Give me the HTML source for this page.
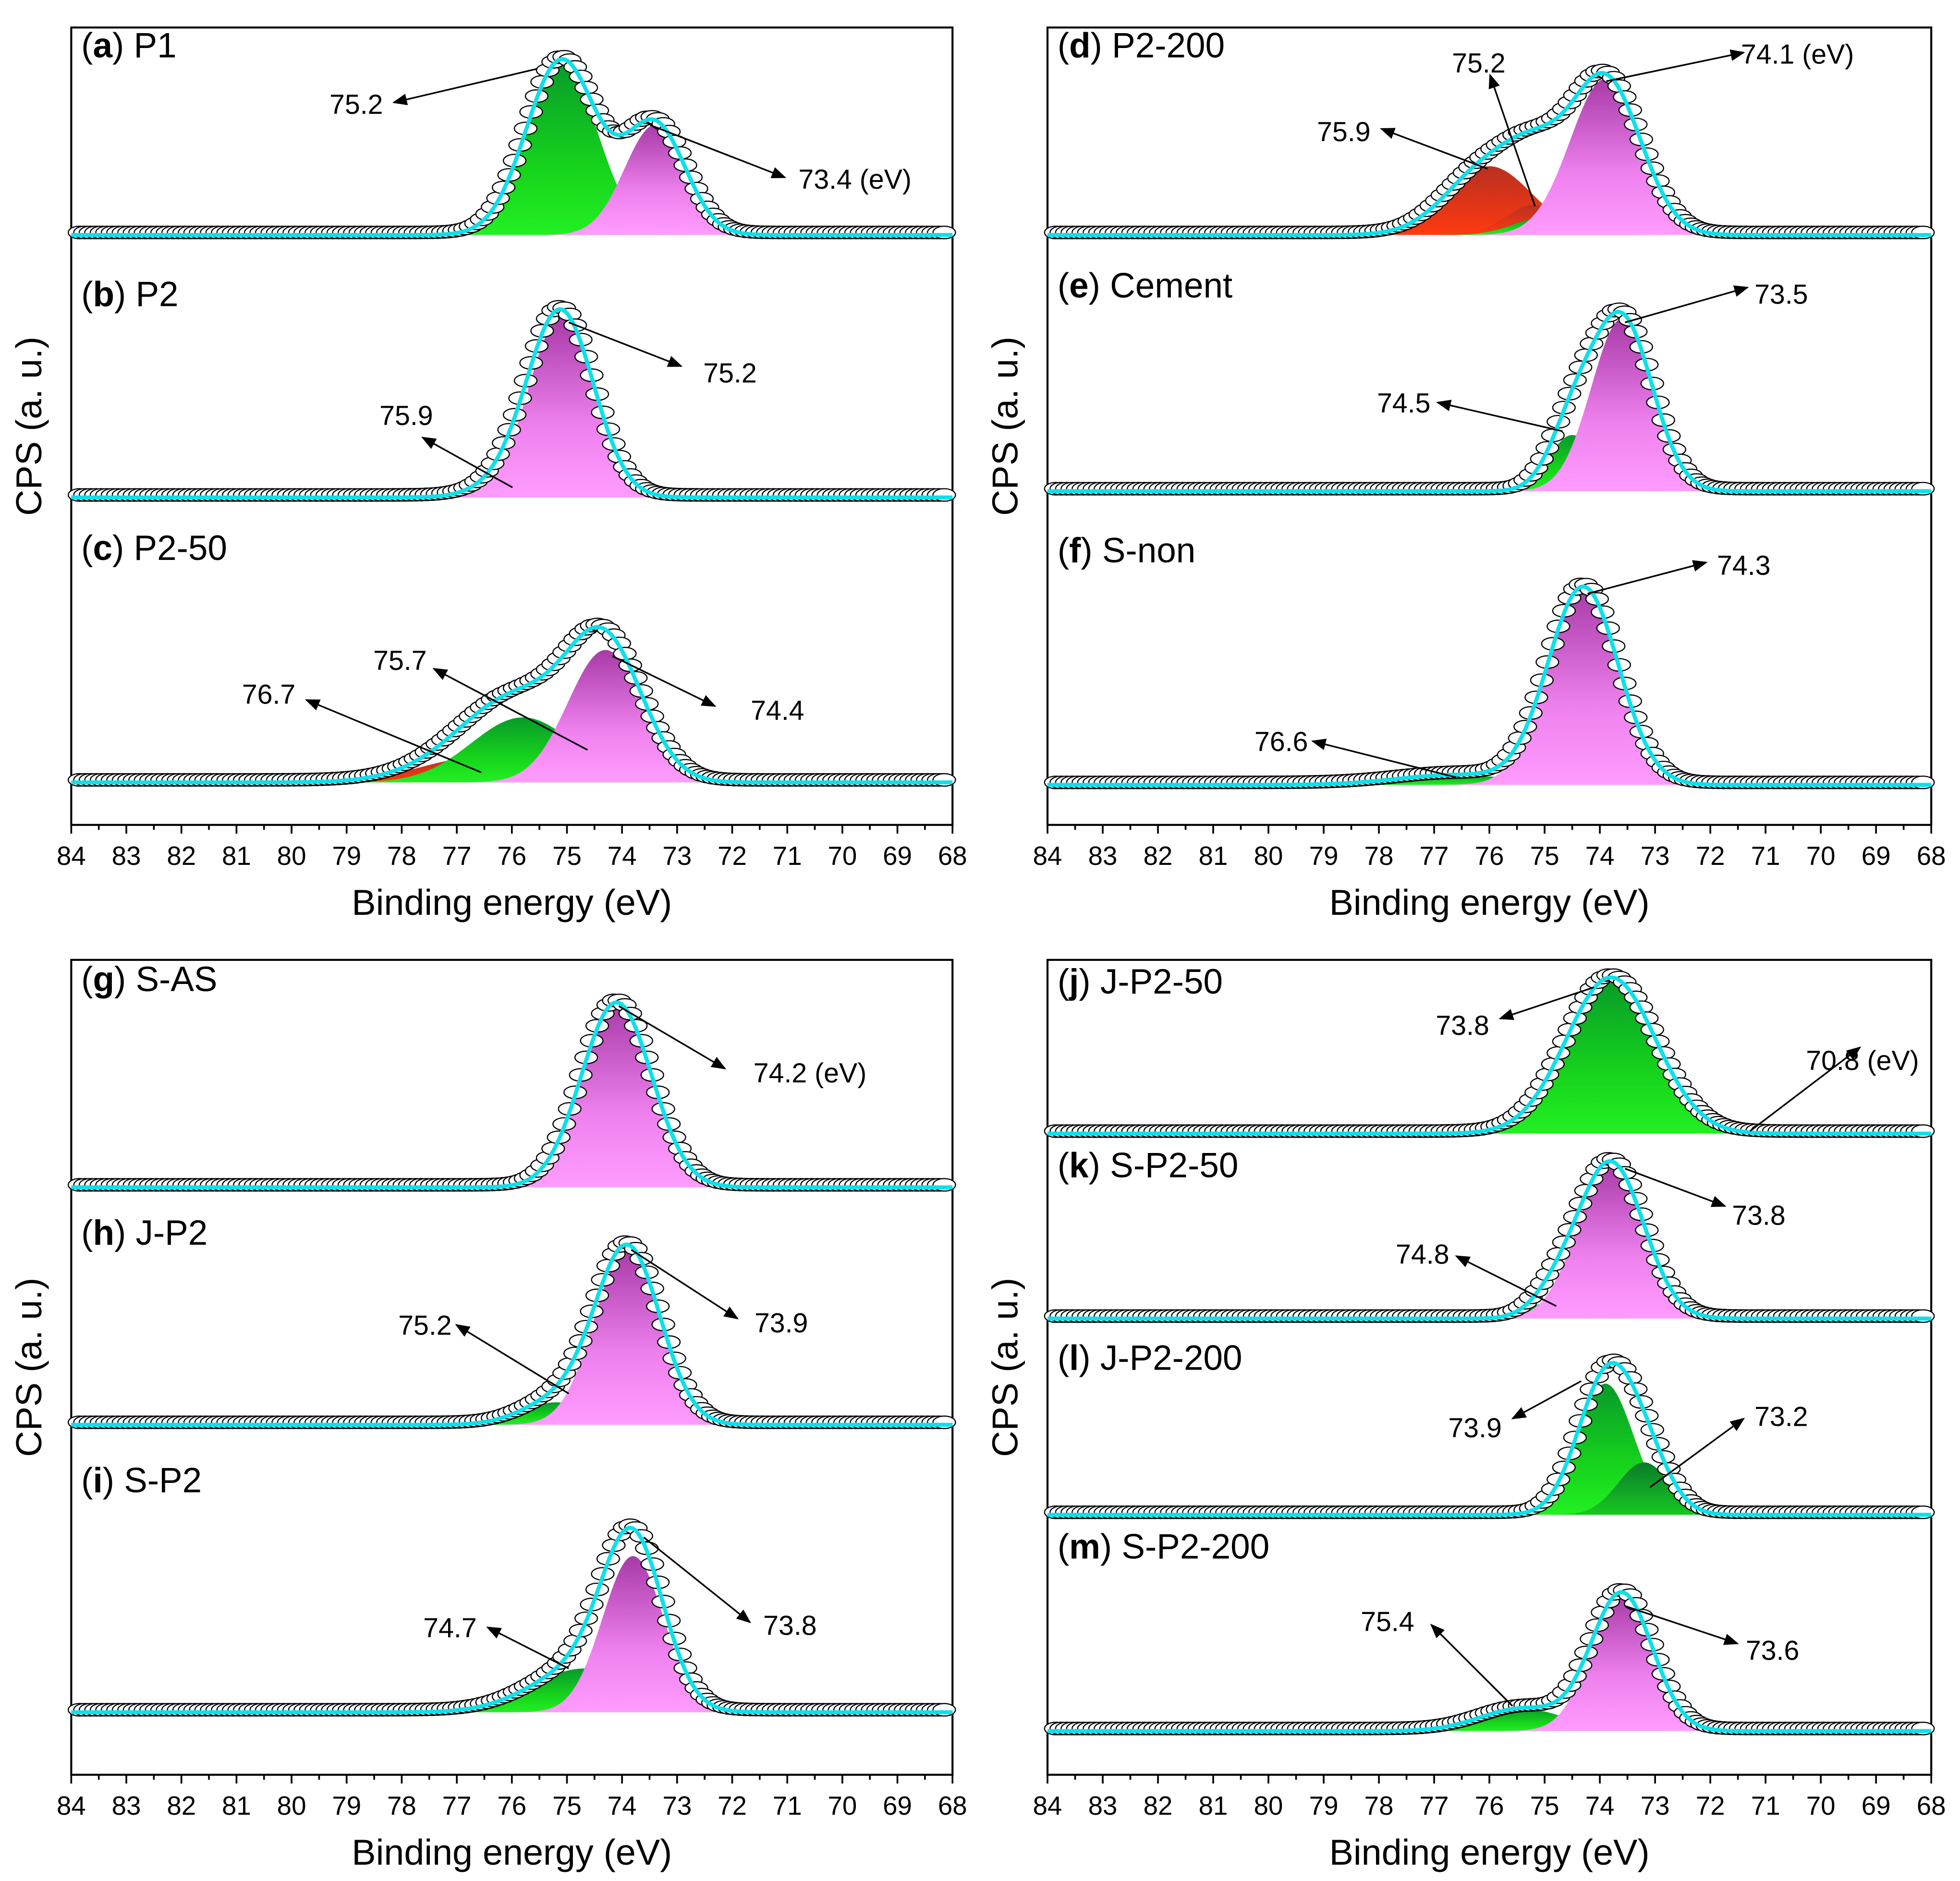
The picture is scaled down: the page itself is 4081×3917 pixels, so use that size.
<!DOCTYPE html>
<html><head><meta charset="utf-8"><style>
html,body{margin:0;padding:0;background:#fff}
svg{display:block}
text{font-family:"Liberation Sans",Arial,sans-serif;fill:#000}
</style></head><body>
<svg id="fig" xmlns="http://www.w3.org/2000/svg" width="4081" height="3917" viewBox="0 0 1568 1505" preserveAspectRatio="none">
<defs>
<linearGradient id="gpink" x1="0" y1="0" x2="0" y2="1"><stop offset="0" stop-color="#a83aa8"/><stop offset="0.6" stop-color="#ee80ee"/><stop offset="1" stop-color="#ff9cff"/></linearGradient>
<linearGradient id="ggreen" x1="0" y1="0" x2="0" y2="1"><stop offset="0" stop-color="#079a2a"/><stop offset="0.6" stop-color="#16d21c"/><stop offset="1" stop-color="#22f022"/></linearGradient>
<linearGradient id="gdgreen" x1="0" y1="0" x2="0" y2="1"><stop offset="0" stop-color="#0a7a2a"/><stop offset="1" stop-color="#18c820"/></linearGradient>
<linearGradient id="gred" x1="0" y1="0" x2="0" y2="1"><stop offset="0" stop-color="#b83020"/><stop offset="1" stop-color="#ff3a10"/></linearGradient>
<marker id="ah" viewBox="0 0 10 10" refX="9" refY="5" markerWidth="9" markerHeight="9" orient="auto-start-reverse"><path d="M0,1 L10,5 L0,9 z" fill="#000"/></marker>
</defs>
<g id="root"></g>
</svg>
<script>
const frames = [
 {x0:57,x1:762,y0:22,y1:660},
 {x0:838,x1:1545,y0:22,y1:660},
 {x0:57,x1:762,y0:768,y1:1420},
 {x0:838,x1:1545,y0:768,y1:1420}
];
const tickLabels = [84,83,82,81,80,79,78,77,76,75,74,73,72,71,70,69,68];
const names = ["a","b","c","d","e","f","g","h","i","j","k","l","m"];
const titles = ["P1","P2","P2-50","P2-200","Cement","S-non","S-AS","J-P2","S-P2","J-P2-50","S-P2-50","J-P2-200","S-P2-200"];
const frameIdx = [0,0,0,1,1,1,2,2,2,3,3,3,3];
const baselines = [188,398,626,188,393,628,950,1140,1370,907,1055,1212,1385];
const titleY = [46,245,448,46,238,450,793,996,1194,795,942,1096,1247];
const centers = [[75.1,73.4],[75.9,75.1],[76.6,75.8,74.3],[76.0,75.2,75.0,73.9],[74.5,73.6],[76.6,74.3],[74.1],[75.2,73.9],[74.7,73.8],[73.8],[74.8,73.8],[73.9,73.2],[75.4,73.6]];
const heights = [[140,88],[12,145],[20,52,106],[55,24,14,125],[45,138],[8,158],[148],[18,142],[35,125],[125],[15,125],[105,42],[18,110]];
const fwhms = [[1.5,1.3],[1.5,1.4],[2.5,2.2,1.6],[1.8,1.2,1.3,1.5],[1.0,1.3],[2.5,1.5],[1.5],[1.5,1.4],[2.2,1.3],[1.9],[1.0,1.4],[1.2,1.1],[1.8,1.3]];
const colors = [["ggreen","gpink"],["ggreen","gpink"],["gred","ggreen","gpink"],["gred","gred","ggreen","gpink"],["ggreen","gpink"],["ggreen","gpink"],["gpink"],["ggreen","gpink"],["ggreen","gpink"],["ggreen"],["ggreen","gpink"],["ggreen","gdgreen"],["ggreen","gpink"]];
const annText = [["75.2","73.4 (eV)"],["75.9","75.2"],["76.7","75.7","74.4"],["75.9","75.2","74.1 (eV)"],["74.5","73.5"],["76.6","74.3"],["74.2 (eV)"],["75.2","73.9"],["74.7","73.8"],["73.8","70.8 (eV)"],["74.8","73.8"],["73.9","73.2"],["75.4","73.6"]];
const annPos = [[[285,83],[684,143]],[[325,332],[584,298]],[[215,555],[320,528],[622,568]],[[1075,105],[1183,50],[1438,43]],[[1123,322],[1425,235]],[[1025,593],[1395,452]],[[648,858]],[[340,1060],[625,1058]],[[360,1302],[632,1300]],[[1170,820],[1490,848]],[[1138,1003],[1407,972]],[[1180,1142],[1425,1133]],[[1110,1297],[1418,1320]]];
const annLine = [[[430,55,315,82],[520,100,628,142]],[[410,390,338,350],[455,258,545,293]],[[385,618,245,560],[470,600,347,535],[490,525,572,565]],[[1190,135,1105,103],[1228,165,1192,60],[1285,65,1395,42]],[[1250,345,1150,322],[1300,258,1398,230]],[[1165,622,1050,593],[1270,475,1365,450]],[[495,805,580,855]],[[455,1115,365,1060],[505,1000,590,1055]],[[455,1335,390,1302],[515,1230,600,1298]],[[1275,790,1200,815],[1400,905,1488,838]],[[1245,1045,1165,1005],[1300,935,1380,965]],[[1265,1105,1210,1135],[1320,1190,1395,1135]],[[1210,1365,1145,1300],[1300,1285,1390,1315]]];

const NS="http://www.w3.org/2000/svg";
const root=document.getElementById('root');
function mk(tag,attrs,parent){const e=document.createElementNS(NS,tag);for(const k in attrs)e.setAttribute(k,attrs[k]);(parent||root).appendChild(e);return e;}
function xs(f,ev){return f.x0+(84-ev)/16*(f.x1-f.x0);}
function gauss(ev,c,h,w){const s=w/2.3548;return h*Math.exp(-0.5*((ev-c)/s)**2);}

frames.forEach((f,i)=>{
  const g=mk('g',{});
  
  
  const r=mk('rect',{x:f.x0,y:f.y0,width:f.x1-f.x0,height:f.y1-f.y0,fill:'none',stroke:'#000','stroke-width':1.6},g);
  
  
  for(let v=84;v>=68;v-=0.5){
    const x=xs(f,v);const major=Number.isInteger(v);
    mk('line',{x1:x,x2:x,y1:f.y1,y2:f.y1+(major?7:4),stroke:'#000','stroke-width':1.4},g);
  }
  tickLabels.forEach(v=>{
    const t=mk('text',{x:xs(f,v),y:f.y1+32,'text-anchor':'middle','font-size':21},g);
    t.textContent=v;
    
    
  });
  const xt=mk('text',{x:(f.x0+f.x1)/2,y:f.y1+72,'text-anchor':'middle','font-size':29},g);
  xt.textContent='Binding energy (eV)';
  
  
  const cy=(f.y0+f.y1)/2;const cx=f.x0-24;
  const yt=mk('text',{x:cx,y:cy,'text-anchor':'middle','font-size':29,transform:`rotate(-90 ${cx} ${cy})`},g);
  yt.textContent='CPS (a. u.)';
  
  
});

names.forEach((n,i)=>{
  const f=frames[frameIdx[i]];const b=baselines[i];
  const g=mk('g',{});
  
  
  const step=0.05;
  centers[i].forEach((c,k)=>{
    let d=`M${xs(f,84)},${b}`;
    for(let v=84;v>=68-1e-9;v-=step){d+=` L${xs(f,v).toFixed(2)},${(b-gauss(v,c,heights[i][k],fwhms[i][k])).toFixed(2)}`;}
    d+=` L${xs(f,68)},${b} Z`;
    const p=mk('path',{d:d,fill:`url(#${colors[i][k]})`,stroke:'none'},g);
    
    
  });
  const env=v=>centers[i].reduce((s,c,k)=>s+gauss(v,c,heights[i][k],fwhms[i][k]),0);
  const mg=mk('g',{},g);
  
  
  for(let v=83.85;v>=68.1;v-=0.1){
    const e=env(v);
    mk('ellipse',{cx:xs(f,v).toFixed(2),cy:(b-e-2).toFixed(2),rx:9,ry:5,fill:'#fff',stroke:'#000','stroke-width':0.9},mg);
  }
  let d='';
  for(let v=84;v>=68-1e-9;v-=step){d+=(d?' L':'M')+xs(f,v).toFixed(2)+','+(b-env(v)).toFixed(2);}
  const fl=mk('path',{d:d,fill:'none',stroke:'#0de0ea','stroke-width':3.2},g);
  
  
  const t=mk('text',{x:f.x0+8,y:titleY[i],'font-size':28},g);
  t.innerHTML=`(<tspan font-weight="bold">${n}</tspan>) ${titles[i]}`;
  
  
  annText[i].forEach((s,k)=>{
    const L=annLine[i][k];
    const ln=mk('line',{x1:L[0],y1:L[1],x2:L[2],y2:L[3],stroke:'#000','stroke-width':1.3,'marker-end':'url(#ah)'},g);
    
    
    const P=annPos[i][k];
    const tx=mk('text',{x:P[0],y:P[1]+8,'text-anchor':'middle','font-size':22},g);
    tx.textContent=s;
    
    
  });
});
</script>
</body></html>
